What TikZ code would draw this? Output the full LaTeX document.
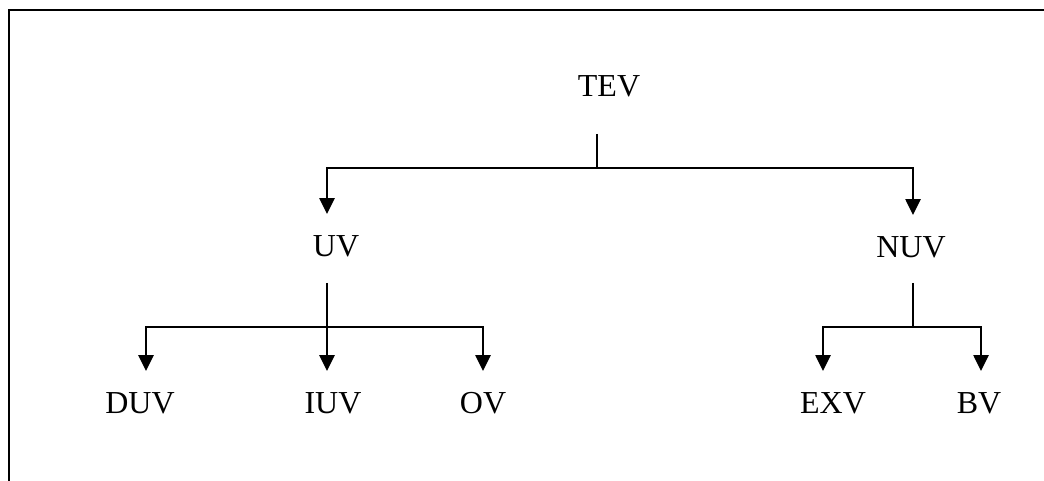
\documentclass[tikz,border=0pt]{standalone}
\usepackage{fontspec}
\setmainfont{Liberation Serif}
\usetikzlibrary{positioning,arrows.meta}

\begin{document}
\begin{tikzpicture}[x=0.75pt,y=-0.75pt, line width=1.2pt, >={Triangle[length=12pt,width=11.5pt]},
  lbl/.style={font=\fontsize{24}{28}\selectfont, text height=15.9pt, text depth=0pt, inner xsep=0pt, inner ysep=15pt, anchor=base}]
\useasboundingbox (0,0) rectangle (1044,481);
% frame
\draw[line width=1.6pt] (9,481) -- (9,10) -- (1044,10);
% labels
\node[lbl] (tev) at (609,97) {TEV};
\node[lbl] (uv) at (336,256) {UV};
\node[lbl] (nuv) at (911,257) {NUV};
\node[lbl] (duv) at (140,413) {DUV};
\node[lbl] (iuv) at (333,413) {IUV};
\node[lbl] (ov) at (483,413) {OV};
\node[lbl] (exv) at (833,413) {EXV};
\node[lbl] (bv) at (979,413) {BV};
\coordinate (tevfork) at (597,168);
\coordinate (uvfork) at (327,327);
\coordinate (nuvfork) at (913,327);
% TEV
\draw (tev.south -| tevfork) ++(0,16) -- (tevfork);
\draw[->] (tevfork) -| (uv.north -| uvfork);\draw[->] (tevfork) -| (nuv.north -| nuvfork);
% UV
\draw (uv.south -| uvfork) ++(0,6) -- (uvfork);
\draw[->] (uvfork) -| ([xshift=4.5pt]duv.north);\draw[->] (uvfork) -- (iuv.north -| uvfork);\draw[->] (uvfork) -| (ov.north);
% NUV
\draw (nuv.south -| nuvfork) ++(0,5) -- (nuvfork);
\draw[->] (nuvfork) -| ([xshift=-7.5pt]exv.north);\draw[->] (nuvfork) -| ([xshift=1.5pt]bv.north);
\end{tikzpicture}
\end{document}
